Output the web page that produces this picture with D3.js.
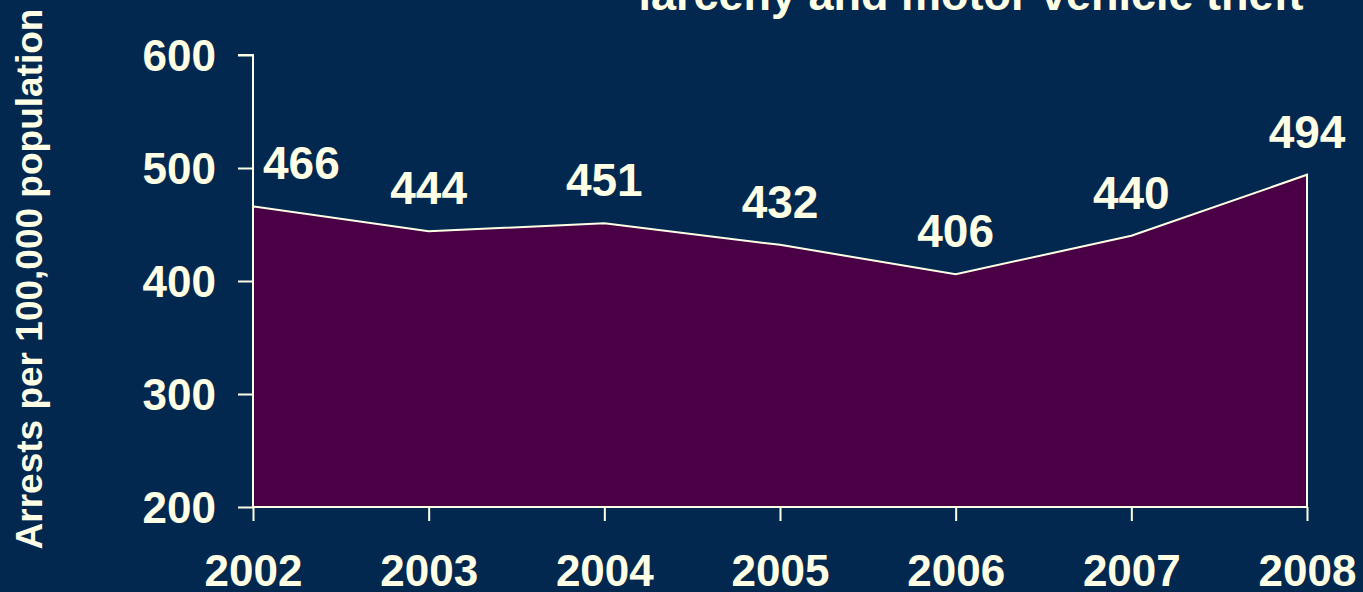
<!DOCTYPE html>
<html>
<head>
<meta charset="utf-8">
<script src="https://cdn.jsdelivr.net/npm/d3@7"></script>
<style>
  html, body { margin: 0; padding: 0; background: #02284F; overflow: hidden; }
  svg { display: block; }
  text { font-family: "Liberation Sans", Arial, sans-serif; font-weight: bold; fill: #FFFFE6; }
</style>
</head>
<body>
<svg id="chart" width="1363" height="592"></svg>
<script>
const years = ["2002", "2003", "2004", "2005", "2006", "2007", "2008"];
const arrests = [466, 444, 451, 432, 406, 440, 494];
const yTicks = [200, 300, 400, 500, 600];
const titleText = "larceny and motor vehicle theft";
const yAxisTitle = "Arrests per 100,000 population";

const W = 1363, H = 592;
const cream = "#FFFFE6";
const svg = d3.select("#chart");
svg.append("rect").attr("width", W).attr("height", H).attr("fill", "#02284F");

const x = d3.scalePoint().domain(years).range([253, 1307]);
const y = d3.scaleLinear().domain([200, 600]).range([507, 55]);

const data = years.map((yr, i) => ({ yr, v: arrests[i] }));

// area
const area = d3.area().x(d => x(d.yr)).y0(y(200)).y1(d => y(d.v));
svg.append("path").datum(data)
  .attr("d", area)
  .attr("fill", "#4A0044")
  .attr("stroke", cream)
  .attr("stroke-width", 2)
  .attr("stroke-linejoin", "miter");

// y axis
const yAxis = svg.append("g").attr("transform", `translate(${x(years[0])},0)`)
  .call(d3.axisLeft(y).tickValues(yTicks).tickSize(15).tickPadding(22).tickFormat(d3.format("d")));
yAxis.selectAll("path, line").attr("stroke", cream).attr("stroke-width", 2);
yAxis.select(".domain").attr("d", `M-15,${y(600)}H0V${y(200)}`);
yAxis.selectAll("text").attr("font-size", 44).attr("fill", cream)
  .attr("font-family", "Liberation Sans, Arial, sans-serif").attr("font-weight", "bold").attr("dy", "0.35em");

// x axis
const xAxis = svg.append("g").attr("transform", `translate(0,${y(200)})`)
  .call(d3.axisBottom(x).tickSize(14).tickPadding(34));
xAxis.selectAll("path, line").attr("stroke", cream).attr("stroke-width", 2);
xAxis.select(".domain").attr("d", `M${x(years[0])},0H${x(years[years.length-1])}`);
xAxis.selectAll("text").attr("font-size", 44).attr("fill", cream)
  .attr("font-family", "Liberation Sans, Arial, sans-serif").attr("font-weight", "bold");

// data labels
svg.append("g").selectAll("text").data(data).join("text")
  .attr("x", (d, i) => i === 0 ? x(d.yr) + 10 : x(d.yr))
  .attr("y", d => y(d.v) - 27)
  .attr("text-anchor", (d, i) => i === 0 ? "start" : "middle")
  .attr("font-size", 46)
  .text(d => d.v);

// y axis title
svg.append("text")
  .attr("transform", "translate(42,279) rotate(-90)")
  .attr("text-anchor", "middle")
  .attr("font-size", 37)
  .text(yAxisTitle);

// title (partially cut off at top)
svg.append("text")
  .attr("x", 971).attr("y", 10)
  .attr("text-anchor", "middle")
  .attr("font-size", 45)
  .text(titleText);
</script>
</body>
</html>
